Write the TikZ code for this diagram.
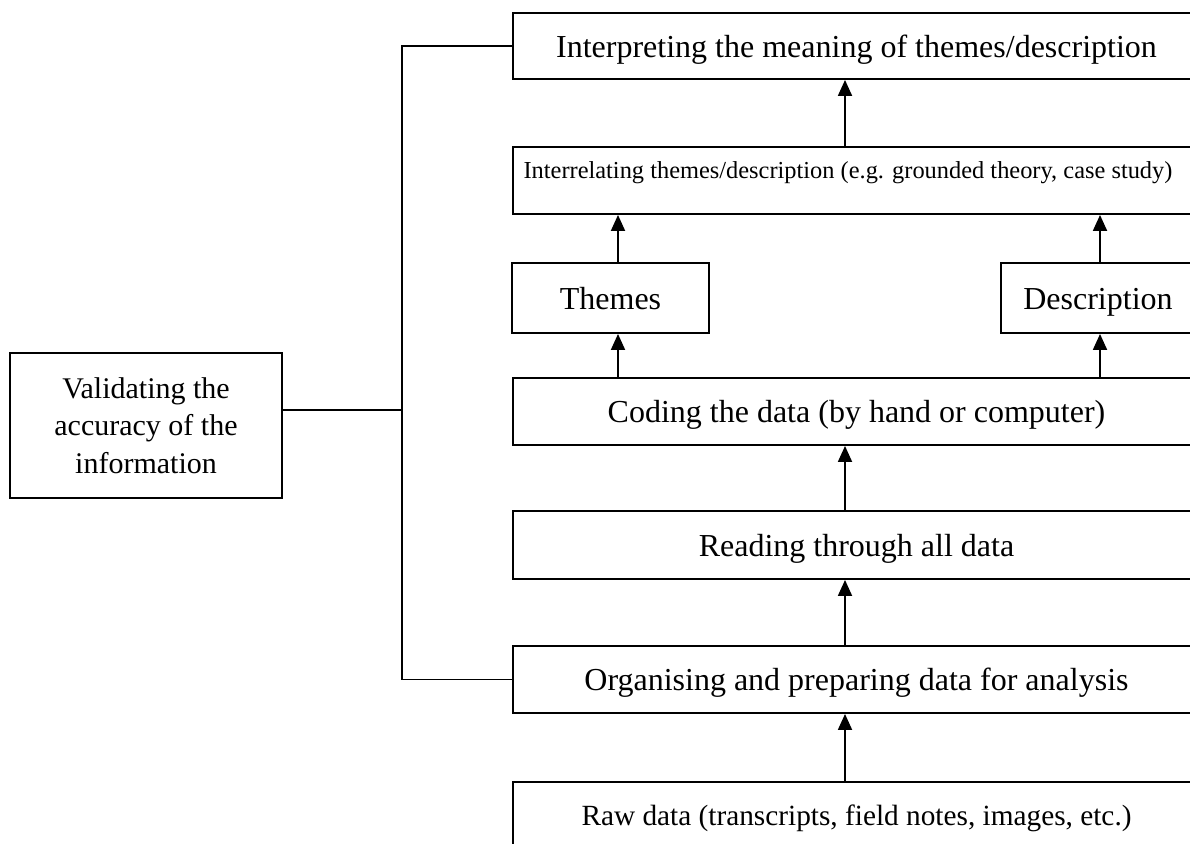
\documentclass[tikz,border=0pt]{standalone}
\usepackage{fontspec}
\setmainfont{Liberation Serif}
\usetikzlibrary{arrows.meta}
\begin{document}
\begin{tikzpicture}[x=1pt,y=-1pt,
  box/.style={draw=black, line width=1.9pt, rectangle, inner sep=0pt, align=center, font=\fontsize{32}{38}\selectfont},
  oneline/.style={text height=28pt, text depth=6pt},
  arr/.style={line width=1.9pt, -{Triangle[length=16pt,width=14pt]}},
  link/.style={line width=1.9pt}]
\useasboundingbox (0,0) rectangle (1190,843);
\fill[white] (0,0) rectangle (1190,843);
\begin{scope}
\clip (0,0) rectangle (1190,843);
% main column boxes
\node[box, oneline, minimum width=687pt, minimum height=66pt] (interp) at (856.5,46) {Interpreting the meaning of themes/description};
\node[box, minimum width=687pt, minimum height=67pt] (interr) at (856.5,180.5) {};
\node[font=\fontsize{24.4}{29}\selectfont, inner sep=0pt] (interrtext) at (848,173) {Interrelating themes/description (e.g. grounded theory, case study)};
\node[box, oneline, minimum width=197pt, minimum height=70pt] (themes) at (610.5,298) {Themes};
\node[box, oneline, minimum width=194pt, minimum height=70pt] (desc) at (1098,298) {Description};
\node[box, oneline, minimum width=687pt, minimum height=67pt] (coding) at (856.5,411.5) {Coding the data (by hand or computer)};
\node[box, oneline, minimum width=687pt, minimum height=68pt] (reading) at (856.5,545) {Reading through all data};
\node[box, oneline, minimum width=687pt, minimum height=67pt] (org) at (856.5,679.5) {Organising and preparing data for analysis};
\node[box, text height=25pt, text depth=6pt, minimum width=687pt, minimum height=67pt, font=\fontsize{29.3}{35}\selectfont] (raw) at (856.5,815.5) {Raw data (transcripts, field notes, images, etc.)};
% validating box
\node[box, minimum width=272pt, minimum height=145pt, font=\fontsize{30}{37.5}\selectfont] (valid) at (146,425.5) {Validating the\\accuracy of the\\information};
% arrow columns
\coordinate (ax) at (845,0);
\coordinate (tx) at (618,0);
\coordinate (dx) at (1100,0);
\coordinate (bx) at (402,0);
\draw[arr] (interr.north -| ax) -- (interp.south -| ax);
\draw[arr] (themes.north -| tx) -- (interr.south -| tx);
\draw[arr] (desc.north -| dx) -- (interr.south -| dx);
\draw[arr] (coding.north -| tx) -- (themes.south -| tx);
\draw[arr] (coding.north -| dx) -- (desc.south -| dx);
\draw[arr] (reading.north -| ax) -- (coding.south -| ax);
\draw[arr] (org.north -| ax) -- (reading.south -| ax);
\draw[arr] (raw.north -| ax) -- (org.south -| ax);
% bracket
\draw[link] (interp.west) -- (interp.west -| bx) -- (org.west -| bx) -- (org.west);
\draw[link] ([yshift=15.5pt]valid.east) -- ([yshift=15.5pt]valid.east -| bx);
\end{scope}
\end{tikzpicture}
\end{document}
